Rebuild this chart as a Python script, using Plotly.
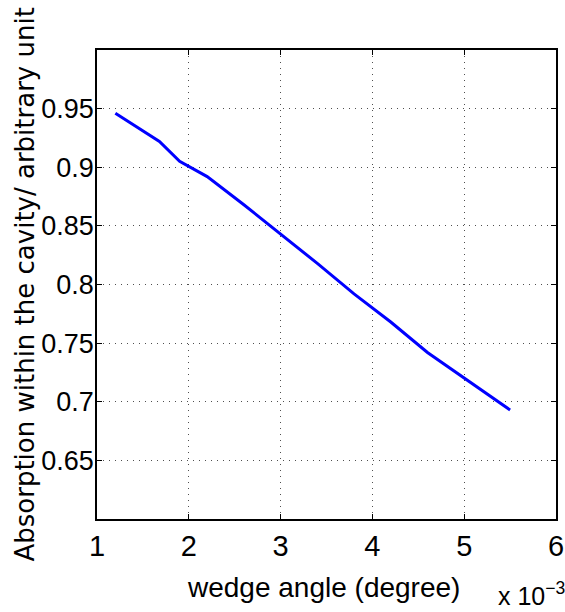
import plotly.graph_objects as go

# data (x in units of 1e-3 degree)
wedge_angle = [1.2, 1.68, 1.9, 2.2, 2.6, 3.0, 3.4, 3.8, 4.2, 4.6, 5.0, 5.5]
absorption = [0.946, 0.922, 0.905, 0.892, 0.868, 0.843, 0.818, 0.792, 0.768, 0.742, 0.720, 0.693]

x_ticks = [1, 2, 3, 4, 5, 6]
y_ticks = [0.65, 0.70, 0.75, 0.80, 0.85, 0.90, 0.95]
y_ticklabels = ["0.65", "0.7", "0.75", "0.8", "0.85", "0.9", "0.95"]

FONT = "Liberation Sans, Arial, Helvetica, sans-serif"

fig = go.Figure()
fig.add_trace(go.Scatter(x=wedge_angle, y=absorption, mode="lines",
                         line=dict(color="#0000ff", width=3), showlegend=False))

axis_common = dict(showline=True, mirror="allticks", linecolor="black", linewidth=1.5,
                   ticks="inside", ticklen=5, tickcolor="black", automargin=False,
                   showgrid=True, gridcolor="rgba(60,60,60,0.9)", griddash="1px,5px", gridwidth=1,
                   zeroline=False)

fig.update_xaxes(range=[1, 6], tickvals=x_ticks, ticktext=[str(v) for v in x_ticks],
                 tickfont=dict(family=FONT, size=29, color="black"), **axis_common)
fig.update_yaxes(range=[0.6, 1.0], tickvals=y_ticks, ticktext=y_ticklabels,
                 tickfont=dict(family=FONT, size=27, color="black"), ticklabelstandoff=-4,
                 **axis_common)

fig.add_annotation(text="wedge angle (degree)", xref="paper", yref="paper",
                   x=0.494, y=-0.145, xanchor="center", yanchor="middle", showarrow=False,
                   font=dict(family=FONT, size=28, color="black"))
fig.add_annotation(text="Absorption within the cavity/ arbitrary unit", xref="paper", yref="paper",
                   x=-0.159, y=0.5, xanchor="center", yanchor="middle", textangle=-90, showarrow=False,
                   font=dict(family="DejaVu Sans, sans-serif", size=26, color="black"))
fig.add_annotation(text="x 10<sup>−3</sup>", xref="paper", yref="paper",
                   x=0.870, y=-0.198, xanchor="left", yanchor="bottom", showarrow=False,
                   font=dict(family=FONT, size=25, color="black"))

fig.update_layout(width=565, height=612, margin=dict(l=97, r=9, t=50, b=93),
                  paper_bgcolor="white", plot_bgcolor="white")

fig.write_html("out.html", config={"displayModeBar": False},
               post_script="document.body.style.margin='0';")
